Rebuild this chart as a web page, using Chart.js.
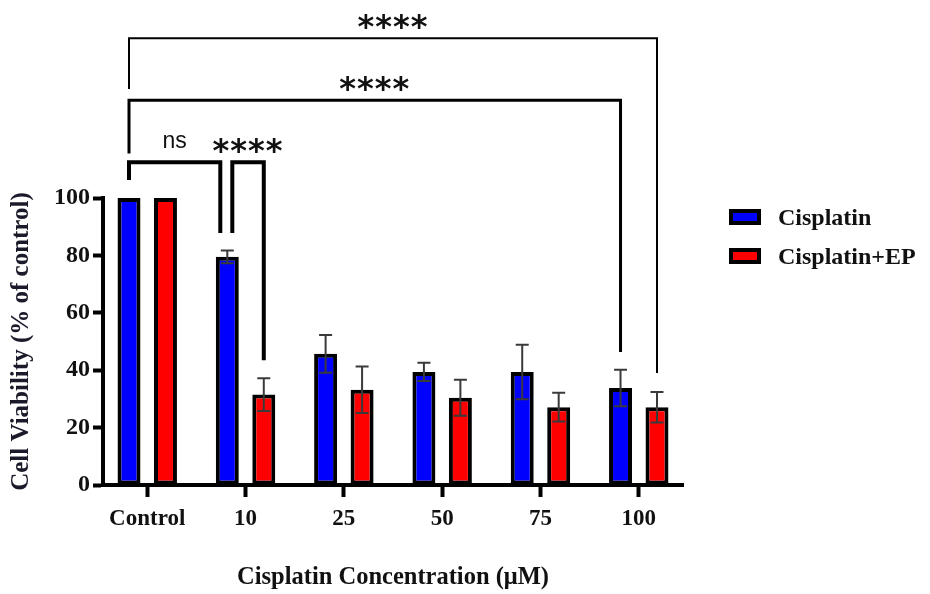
<!DOCTYPE html>
<html>
<head>
<meta charset="utf-8">
<title>Cell viability vs cisplatin concentration</title>
<script src="https://cdn.jsdelivr.net/npm/chart.js@4.4.1/dist/chart.umd.min.js"></script>
<style>
  html, body { margin: 0; padding: 0; background: #fff; }
  #wrap { width: 930px; height: 594px; }
</style>
</head>
<body>
<div id="wrap"><canvas id="chart" width="930" height="594"></canvas></div>
<script>
// Cell viability (% of control), cisplatin alone vs cisplatin + EP, mean ± SD

const categories = ['Control', '10', '25', '50', '75', '100'];
const seriesNames = ['Cisplatin', 'Cisplatin+EP'];
const cisplatinMean = [100, 79.5, 45.7, 39.4, 39.4, 33.8];
const cisplatinSd = [0, 2.2, 6.6, 3.2, 9.5, 6.4];
const comboMean = [100, 31.5, 33.2, 30.4, 27.1, 27.1];
const comboSd = [0, 5.7, 8.1, 6.3, 5.0, 5.3];
const yTicks = [0, 20, 40, 60, 80, 100];

// significance brackets: ends given as [category, series]; level and leg ends in % units
const bracketLabels = ['****', '****', 'ns', '****'];
const bracketFrom = [[0, 0], [0, 0], [0, 0], [1, 0]];
const bracketTo = [[5, 1], [5, 0], [1, 0], [1, 1]];
const bracketLevel = [155.7, 134.1, 112.5, 112.5];
const bracketLegs = [[138, 39], [115.5, 46.3], [106.3, 87.8], [87.8, 43.5]];

const SERIF = '"Liberation Serif", "Times New Roman", serif';
const SANS = '"Liberation Sans", Arial, sans-serif';
const INK = '#111';
const fills = ['#0000ff', '#ff0000'];
const sds = [cisplatinSd, comboSd];

const errorBars = {
  id: 'errorBars',
  afterDatasetsDraw(chart) {
    const { ctx } = chart;
    const y = chart.scales.y;
    ctx.save();
    ctx.strokeStyle = '#3a3a3a';
    ctx.lineWidth = 2;
    chart.data.datasets.forEach((ds, d) => {
      chart.getDatasetMeta(d).data.forEach((bar, i) => {
        const sd = sds[d][i];
        if (!sd) return;
        const v = ds.data[i].y;
        const top = y.getPixelForValue(v + sd);
        const bot = y.getPixelForValue(v - sd);
        ctx.beginPath();
        ctx.moveTo(bar.x, top); ctx.lineTo(bar.x, bot);
        ctx.moveTo(bar.x - 6.5, top); ctx.lineTo(bar.x + 6.5, top);
        ctx.moveTo(bar.x - 6.5, bot); ctx.lineTo(bar.x + 6.5, bot);
        ctx.stroke();
      });
    });
    ctx.restore();
  },
};

const bracketWidth = [2, 3, 4, 4];
const bracketNudge = [[0, 0], [0, 0], [0, -7], [5, 0]];

const brackets = {
  id: 'brackets',
  afterDatasetsDraw(chart) {
    const { ctx } = chart;
    const y = chart.scales.y;
    const barX = ([c, s]) => chart.getDatasetMeta(s).data[c].x;
    ctx.save();
    ctx.strokeStyle = '#000';
    ctx.lineCap = 'butt';
    ctx.lineJoin = 'miter';
    bracketLabels.forEach((label, k) => {
      const x1 = barX(bracketFrom[k]) + bracketNudge[k][0];
      const x2 = barX(bracketTo[k]) + bracketNudge[k][1];
      const yl = y.getPixelForValue(bracketLevel[k]);
      ctx.lineWidth = bracketWidth[k];
      ctx.beginPath();
      ctx.moveTo(x1, y.getPixelForValue(bracketLegs[k][0]));
      ctx.lineTo(x1, yl);
      ctx.lineTo(x2, yl);
      ctx.lineTo(x2, y.getPixelForValue(bracketLegs[k][1]));
      ctx.stroke();

      ctx.fillStyle = '#111';
      ctx.textAlign = 'center';
      ctx.textBaseline = 'alphabetic';
      if (label === 'ns') {
        ctx.font = '23px ' + SANS;
        ctx.fillText(label, (x1 + x2) / 2, yl - 14);
      } else {
        ctx.font = 'bold 32px "DejaVu Sans", sans-serif';
        ctx.letterSpacing = '1px';
        ctx.fillText(label, (x1 + x2) / 2, yl - 1);
        ctx.letterSpacing = '0px';
      }
    });
    ctx.restore();
  },
};

const sideLegend = {
  id: 'sideLegend',
  afterDraw(chart) {
    const { ctx } = chart;
    ctx.save();
    chart.data.datasets.forEach((ds, d) => {
      const top = 209 + d * 39;
      ctx.fillStyle = '#000';
      ctx.fillRect(729, top, 32, 16);
      ctx.fillStyle = ds.backgroundColor;
      ctx.fillRect(733, top + 4, 24, 8);
      ctx.fillStyle = INK;
      ctx.font = 'bold 24px ' + SERIF;
      ctx.textAlign = 'left';
      ctx.textBaseline = 'middle';
      ctx.fillText(ds.label, 778, top + 10);
    });
    ctx.restore();
  },
};

const points = (means) => means.map((v, i) => ({ x: i, y: v }));

new Chart(document.getElementById('chart'), {
  type: 'bar',
  data: {
    datasets: [
      { label: seriesNames[0], data: points(cisplatinMean), backgroundColor: fills[0] },
      { label: seriesNames[1], data: points(comboMean), backgroundColor: fills[1] },
    ],
  },
  options: {
    responsive: false,
    animation: false,
    categoryPercentage: 0.742,
    barPercentage: 0.63,
    datasets: {
      bar: { borderColor: '#000', borderWidth: 4, borderSkipped: false },
    },
    layout: { padding: { top: 198, right: 247, bottom: 0, left: 0 } },
    plugins: {
      legend: { display: false },
      tooltip: { enabled: false },
    },
    scales: {
      x: {
        type: 'linear',
        min: -0.45,
        max: 5.45,
        offset: false,
        afterBuildTicks: (s) => { s.ticks = categories.map((_, i) => ({ value: i })); },
        afterFit: (s) => { s.height = 109; },
        ticks: {
          callback: (v) => categories[Math.round(v)],
          color: INK,
          font: { family: SERIF, size: 23, weight: 'bold' },
          padding: 8,
          maxRotation: 0,
          autoSkip: false,
        },
        grid: { offset: false, drawOnChartArea: false, tickLength: 12, tickWidth: 4, tickColor: '#000' },
        border: { color: '#000', width: 4 },
        title: {
          display: true,
          text: 'Cisplatin Concentration (μM)',
          color: INK,
          font: { family: SERIF, size: 24.5, weight: 'bold' },
          padding: { top: 0, bottom: 2 },
        },
      },
      y: {
        min: 0,
        max: 100,
        afterBuildTicks: (s) => { s.ticks = yTicks.map((v) => ({ value: v })); },
        afterFit: (s) => { s.width = 103; },
        ticks: {
          color: INK,
          font: { family: SERIF, size: 24, weight: 'bold' },
          padding: 3,
        },
        grid: { drawOnChartArea: false, tickLength: 10, tickWidth: 4, tickColor: '#000' },
        border: { color: '#000', width: 4 },
        title: {
          display: true,
          text: 'Cell Viability (% of control)',
          color: '#1a1a2a',
          font: { family: SERIF, size: 25, weight: 'bold' },
          padding: { top: 7, bottom: 0 },
        },
      },
    },
  },
  plugins: [errorBars, brackets, sideLegend],
});
</script>
</body>
</html>
